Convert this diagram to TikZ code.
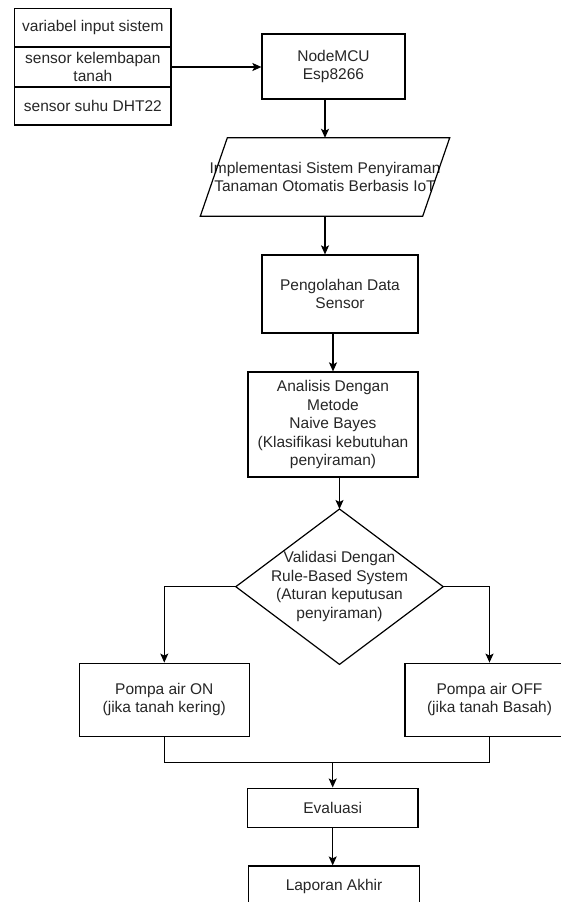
\documentclass[tikz,border=0pt]{standalone}
\usepackage{fontspec}
\setmainfont{Liberation Sans}
\usetikzlibrary{arrows.meta,calc}
\begin{document}
\begin{tikzpicture}[x=1pt,y=-1pt,
  every node/.style={font=\fontsize{15.5pt}{18.5pt}\selectfont, text=black!85, align=center, inner sep=0pt},
  box/.style={draw=black, line width=1.2pt, minimum width=#1},
  line/.style={draw=black, line width=1.2pt},
  arr/.style={line, -{Stealth[length=9pt,width=8pt,inset=2pt]}}
]
\useasboundingbox (0,0) rectangle (560,902);

% input table
\node[box=156.3, minimum height=38.7] (t1) at (92.85,27.65) {variabel input sistem};
\node[box=156.3, minimum height=40] (t2) at (92.85,67) {sensor kelembapan\\tanah};
\node[box=156.3, minimum height=38] (t3) at (92.85,106) {sensor suhu DHT22};

\node[box=143, minimum height=65] (mcu) at (333.5,66.5) {NodeMCU\\Esp8266};

\node[minimum width=249, minimum height=78] (para) at (325,177) {Implementasi Sistem Penyiraman\\Tanaman Otomatis Berbasis IoT};
\draw[line] ($(para.north west)+(27,0)$) -- (para.north east) -- ($(para.south east)+(-27,0)$) -- (para.south west) -- cycle;

\node[box=156, minimum height=78] (peng) at (340,294) {Pengolahan Data\\Sensor};

\node[box=170, minimum height=105] (ana) at (333,424.5) {Analisis Dengan\\Metode\\Naive Bayes\\(Klasifikasi kebutuhan\\penyiraman)};

\node[minimum width=207, minimum height=155] (dia) at (339.5,586.7) {Validasi Dengan\\Rule-Based System\\(Aturan keputusan\\penyiraman)};
\draw[line] (dia.north) -- (dia.east) -- (dia.south) -- (dia.west) -- cycle;

\node[box=170, minimum height=73] (on) at (164.3,699.7) {Pompa air ON\\(jika tanah kering)};
\node[box=169, minimum height=73] (off) at (489.5,699.7) {Pompa air OFF\\(jika tanah Basah)};

\node[box=170.7, minimum height=39] (ev) at (332.7,807.6) {Evaluasi};
\node[box=170.6, minimum height=40] (lap) at (334,886) {Laporan Akhir};

\coordinate (m) at (332.7,762.3);

% connectors
\draw[arr] (t2.east) -- (t2.east -| mcu.west);
\draw[arr] (para.north |- mcu.south) -- (para.north);
\draw[arr] (para.south) -- (para.south |- peng.north);
\draw[arr] (ana.north |- peng.south) -- (ana.north);
\draw[arr] (dia.north |- ana.south) -- (dia.north);
\draw[arr] (dia.west) -| (on.north);
\draw[arr] (dia.east) -| (off.north);
\draw[line] (on.south) |- (m) -| (off.south);
\draw[arr] (m) -- (ev.north);
\draw[arr] (ev.south) -- (ev.south |- lap.north);
\end{tikzpicture}
\end{document}
